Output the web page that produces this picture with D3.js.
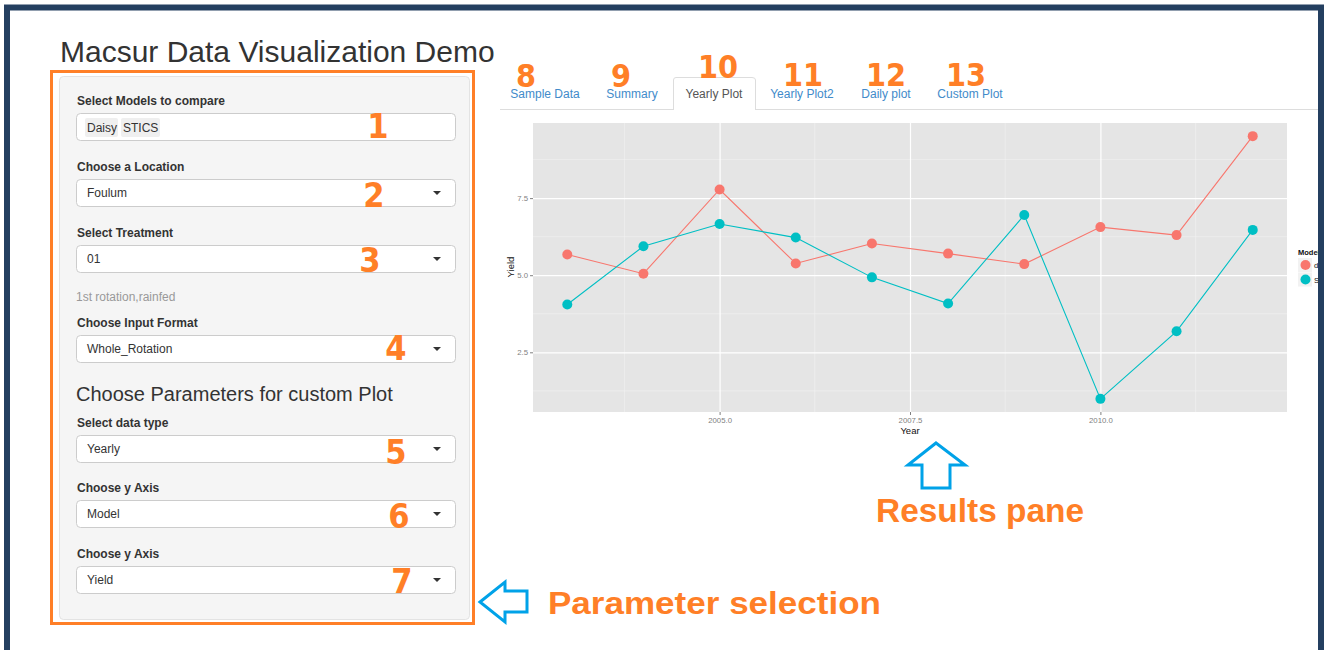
<!DOCTYPE html>
<html>
<head>
<meta charset="utf-8">
<script src="https://d3js.org/d3.v7.min.js"></script>
<style>
  body { margin: 0; background: #fff; }
  svg { display: block; font-family: "Liberation Sans", Arial, sans-serif; }
</style>
</head>
<body>
<script>
// yearly yield per model
var years = [2003, 2004, 2005, 2006, 2007, 2008, 2009, 2010, 2011, 2012];
var daisy = [5.67, 5.05, 7.78, 5.38, 6.03, 5.70, 5.36, 6.56, 6.30, 9.51];
var stics = [4.05, 5.94, 6.66, 6.22, 4.93, 4.08, 6.95, 0.99, 3.18, 6.47];
var seriesNames = ["daisy", "STICS"];
var seriesColors = ["#F8766D", "#00BFC4"];
var xTicks = [2005, 2007.5, 2010];
var yTicks = [2.5, 5.0, 7.5];
var xMinor = [2003.75, 2006.25, 2008.75, 2011.25];
var yMinor = [1.25, 3.75, 6.25, 8.75];

// sidebar controls
var fieldLabels = ["Select Models to compare", "Choose a Location", "Select Treatment",
    "Choose Input Format", "Select data type", "Choose y Axis", "Choose y Axis"];
var fieldValues = ["", "Foulum", "01", "Whole_Rotation", "Yearly", "Model", "Yield"];
var chosenModels = ["Daisy", "STICS"];
var fieldNumbers = ["1", "2", "3", "4", "5", "6", "7"];

// tabs
var tabLabels = ["Sample Data", "Summary", "Yearly Plot", "Yearly Plot2", "Daily plot", "Custom Plot"];
var tabNumbers = ["8", "9", "10", "11", "12", "13"];

var orange = "#ff7f27";
var blue = "#00a2e8";

var svg = d3.select("body")
    .append("svg")
    .attr("width", 1325)
    .attr("height", 650);

// page title
svg.append("text")
    .attr("x", 60)
    .attr("y", 62)
    .attr("font-size", 30)
    .attr("fill", "#333")
    .text("Macsur Data Visualization Demo");

// ---- sidebar well ----
svg.append("rect")
    .attr("x", 59.5).attr("y", 76.5)
    .attr("width", 410).attr("height", 543)
    .attr("rx", 4)
    .attr("fill", "#f5f5f5")
    .attr("stroke", "#e3e3e3");

var inputTops = [113, 179, 245, 335, 435, 500, 566];

var fields = svg.append("g").selectAll("g")
    .data(fieldLabels)
    .enter()
    .append("g")
    .attr("transform", function (d, i) { return "translate(76," + inputTops[i] + ")"; });

fields.append("text")
    .attr("x", 1)
    .attr("y", -8)
    .attr("font-size", 12)
    .attr("font-weight", "bold")
    .attr("fill", "#333")
    .text(function (d) { return d; });

fields.append("rect")
    .attr("x", 0.5).attr("y", 0.5)
    .attr("width", 379).attr("height", 27)
    .attr("rx", 4)
    .attr("fill", "#fff")
    .attr("stroke", "#ccc");

fields.append("text")
    .attr("x", 11)
    .attr("y", 18)
    .attr("font-size", 12)
    .attr("fill", "#333")
    .text(function (d, i) { return fieldValues[i]; });

// dropdown carets (all but the multi select)
fields.filter(function (d, i) { return i > 0; })
    .append("path")
    .attr("d", "M357,12 L365,12 L361,16 Z")
    .attr("fill", "#333");

// chips in the multi select
var chipX = [9, 45];
var chipW = [33, 39];
var chips = svg.append("g").selectAll("g")
    .data(chosenModels)
    .enter()
    .append("g")
    .attr("transform", function (d, i) { return "translate(" + (76 + chipX[i]) + "," + 118 + ")"; });
chips.append("rect")
    .attr("width", function (d, i) { return chipW[i]; })
    .attr("height", 19)
    .attr("rx", 2)
    .attr("fill", "#efefef");
chips.append("text")
    .attr("x", 2)
    .attr("y", 14)
    .attr("font-size", 12)
    .attr("fill", "#333")
    .text(function (d) { return d; });

svg.append("text")
    .attr("x", 76)
    .attr("y", 301)
    .attr("font-size", 12)
    .attr("fill", "#999")
    .text("1st rotation,rainfed");

svg.append("text")
    .attr("x", 76)
    .attr("y", 401)
    .attr("font-size", 20)
    .attr("fill", "#333")
    .text("Choose Parameters for custom Plot");

// orange highlight box
svg.append("rect")
    .attr("x", 51.5).attr("y", 71.5)
    .attr("width", 422).attr("height", 552)
    .attr("fill", "none")
    .attr("stroke", orange)
    .attr("stroke-width", 3);

// ---- tabs ----
var tabX = [545, 632, 714, 802, 886, 970];

svg.append("line")
    .attr("x1", 500).attr("x2", 1318)
    .attr("y1", 109.5).attr("y2", 109.5)
    .attr("stroke", "#ddd");

svg.append("path")
    .attr("d", "M673.5,110 L673.5,80 Q673.5,77.5 676,77.5 L752,77.5 Q755.5,77.5 755.5,80 L755.5,110")
    .attr("fill", "#fff")
    .attr("stroke", "#ddd");

svg.append("g").selectAll("text")
    .data(tabLabels)
    .enter()
    .append("text")
    .attr("x", function (d, i) { return tabX[i]; })
    .attr("y", 98)
    .attr("text-anchor", "middle")
    .attr("font-size", 12)
    .attr("fill", function (d, i) { return i == 2 ? "#555" : "#428bca"; })
    .text(function (d) { return d; });

// ---- yearly plot (ggplot style) ----
var allValues = daisy.concat(stics);
var yExt = d3.extent(allValues);
var yPad = (yExt[1] - yExt[0]) * 0.05;
var xExt = d3.extent(years);
var xPad = (xExt[1] - xExt[0]) * 0.05;

var xScale = d3.scaleLinear()
    .domain([xExt[0] - xPad, xExt[1] + xPad])
    .range([533, 1287]);

var yScale = d3.scaleLinear()
    .domain([yExt[0] - yPad, yExt[1] + yPad])
    .range([412, 123]);

var plot = svg.append("g");

plot.append("rect")
    .attr("x", 533).attr("y", 123)
    .attr("width", 754).attr("height", 289)
    .attr("fill", "#e5e5e5");

// minor grid
plot.selectAll(".xminor")
    .data(xMinor)
    .enter()
    .append("line")
    .attr("x1", function (d) { return xScale(d); })
    .attr("x2", function (d) { return xScale(d); })
    .attr("y1", 123).attr("y2", 412)
    .attr("stroke", "#f2f2f2")
    .attr("stroke-width", 0.6);
plot.selectAll(".yminor")
    .data(yMinor)
    .enter()
    .append("line")
    .attr("y1", function (d) { return yScale(d); })
    .attr("y2", function (d) { return yScale(d); })
    .attr("x1", 533).attr("x2", 1287)
    .attr("stroke", "#f2f2f2")
    .attr("stroke-width", 0.6);

// major grid
plot.append("g")
    .attr("transform", "translate(0,412)")
    .call(d3.axisBottom(xScale).tickValues(xTicks).tickSize(-289).tickFormat(""))
    .call(function (g) { g.select(".domain").remove(); })
    .selectAll("line")
    .attr("stroke", "#fff")
    .attr("stroke-width", 1.2);
plot.append("g")
    .attr("transform", "translate(533,0)")
    .call(d3.axisLeft(yScale).tickValues(yTicks).tickSize(-754).tickFormat(""))
    .call(function (g) { g.select(".domain").remove(); })
    .selectAll("line")
    .attr("stroke", "#fff")
    .attr("stroke-width", 1.2);

// axes
var xAxis = plot.append("g")
    .attr("transform", "translate(0,412)")
    .call(d3.axisBottom(xScale).tickValues(xTicks).tickSize(3).tickPadding(2).tickFormat(d3.format(".1f")));
var yAxis = plot.append("g")
    .attr("transform", "translate(533,0)")
    .call(d3.axisLeft(yScale).tickValues(yTicks).tickSize(3).tickPadding(2).tickFormat(d3.format(".1f")));
[xAxis, yAxis].forEach(function (g) {
    g.select(".domain").remove();
    g.selectAll("line").attr("stroke", "#7f7f7f");
    g.selectAll("text")
        .attr("fill", "#7f7f7f")
        .attr("font-size", 7.8)
        .attr("font-family", "Liberation Sans, Arial, sans-serif");
});

plot.append("text")
    .attr("x", 910)
    .attr("y", 433.5)
    .attr("text-anchor", "middle")
    .attr("font-size", 9.5)
    .attr("fill", "#111")
    .text("Year");

plot.append("text")
    .attr("transform", "translate(514,267) rotate(-90)")
    .attr("text-anchor", "middle")
    .attr("font-size", 9.5)
    .attr("fill", "#111")
    .text("Yield");

// lines and points
var line = d3.line()
    .x(function (d, i) { return xScale(years[i]); })
    .y(function (d) { return yScale(d); });

[daisy, stics].forEach(function (series, s) {
    plot.append("path")
        .datum(series)
        .attr("d", line)
        .attr("fill", "none")
        .attr("stroke", seriesColors[s])
        .attr("stroke-width", 1.1);
});
[daisy, stics].forEach(function (series, s) {
    plot.append("g").selectAll("circle")
        .data(series)
        .enter()
        .append("circle")
        .attr("cx", function (d, i) { return xScale(years[i]); })
        .attr("cy", function (d) { return yScale(d); })
        .attr("r", 5)
        .attr("fill", seriesColors[s]);
});

// legend (cut by the page frame)
var legend = svg.append("g").attr("transform", "translate(1298,0)");
legend.append("text")
    .attr("x", 0)
    .attr("y", 255)
    .attr("font-size", 7.5)
    .attr("font-weight", "bold")
    .attr("fill", "#111")
    .text("Model");
var keys = legend.selectAll("g")
    .data(seriesNames)
    .enter()
    .append("g")
    .attr("transform", function (d, i) { return "translate(0," + (258 + i * 14.5) + ")"; });
keys.append("rect")
    .attr("width", 14).attr("height", 14)
    .attr("fill", "#f2f2f2");
keys.append("circle")
    .attr("cx", 7.5).attr("cy", 7)
    .attr("r", 5)
    .attr("fill", function (d, i) { return seriesColors[i]; });
keys.append("text")
    .attr("x", 16)
    .attr("y", 10)
    .attr("font-size", 7.8)
    .attr("fill", "#111")
    .text(function (d) { return d; });

// ---- annotations ----
var numFont = "'Liberation Sans Narrow', 'DejaVu Sans Condensed', 'Liberation Sans', sans-serif";
var numX = [378, 374, 370, 396, 396, 399, 402];
var numY = [126, 195, 260, 348, 452, 516, 581];
svg.append("g").selectAll("text")
    .data(fieldNumbers)
    .enter()
    .append("text")
    .attr("x", function (d, i) { return numX[i]; })
    .attr("y", function (d, i) { return numY[i] + 12; })
    .attr("text-anchor", "middle")
    .attr("font-size", 34)
    .attr("font-weight", "bold")
    .attr("font-family", numFont)
    .attr("fill", orange)
    .text(function (d) { return d; });

var tabNumX = [526, 621, 718, 803, 886, 966];
var tabNumY = [76, 76, 67, 75, 75, 75];
svg.append("g").selectAll("text")
    .data(tabNumbers)
    .enter()
    .append("text")
    .attr("x", function (d, i) { return tabNumX[i]; })
    .attr("y", function (d, i) { return tabNumY[i] + 11; })
    .attr("text-anchor", "middle")
    .attr("font-size", 32)
    .attr("font-weight", "bold")
    .attr("font-family", numFont)
    .attr("fill", orange)
    .text(function (d) { return d; });

// up arrow under the plot
svg.append("path")
    .attr("d", "M936,443 L965,465 L950,465 L950,488 L922,488 L922,465 L908,465 Z")
    .attr("fill", "#fff")
    .attr("stroke", blue)
    .attr("stroke-width", 3)
    .attr("stroke-linejoin", "miter");

svg.append("text")
    .attr("x", 876)
    .attr("y", 522)
    .attr("font-size", 34)
    .attr("font-weight", "bold")
    .attr("textLength", 208)
    .attr("lengthAdjust", "spacingAndGlyphs")
    .attr("fill", orange)
    .text("Results pane");

// left arrow next to the sidebar
svg.append("path")
    .attr("d", "M480,602 L505,582 L505,591 L527,591 L527,612 L505,612 L505,622 Z")
    .attr("fill", "#fff")
    .attr("stroke", blue)
    .attr("stroke-width", 3);

svg.append("text")
    .attr("x", 548)
    .attr("y", 614)
    .attr("font-size", 32)
    .attr("font-weight", "bold")
    .attr("textLength", 333)
    .attr("lengthAdjust", "spacingAndGlyphs")
    .attr("fill", orange)
    .text("Parameter selection");

// page frame drawn last so it cuts the legend
svg.append("rect")
    .attr("x", 1318).attr("y", 0)
    .attr("width", 7).attr("height", 650)
    .attr("fill", "#fff");
svg.append("rect")
    .attr("x", 7).attr("y", 7.5)
    .attr("width", 1314).attr("height", 700)
    .attr("fill", "none")
    .attr("stroke", "#243f60")
    .attr("stroke-width", 6);
</script>
</body>
</html>
